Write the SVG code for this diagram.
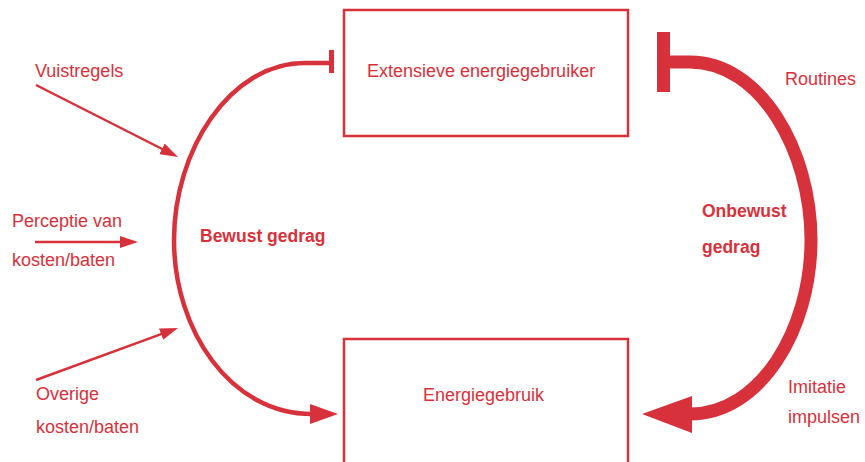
<svg xmlns="http://www.w3.org/2000/svg" width="865" height="462" viewBox="0 0 865 462">
  <defs>
    <style>
      .lbl { font-family: "Liberation Sans", Arial, sans-serif; font-size: 18px; fill: #d7313b; }
      .bold { font-family: "Liberation Sans", Arial, sans-serif; font-size: 17.5px; font-weight: bold; fill: #d7313b; }
      .box { fill: none; stroke: #d7313b; stroke-width: 2.5; }
      .thin { fill: none; stroke: #d7313b; stroke-width: 2.5; }
      .arc { fill: none; stroke: #d7313b; }
      .head { fill: #d7313b; }
    </style>
    <marker id="arr" markerUnits="userSpaceOnUse" markerWidth="18" markerHeight="12" refX="8" refY="6" orient="auto" viewBox="0 0 18 12">
      <path d="M0,0 L18,6 L0,12 z" fill="#d7313b"/>
    </marker>
  </defs>
  <rect width="865" height="462" fill="#ffffff"/>

  <g id="node-extensieve">
    <rect class="box" x="344" y="10" width="284" height="126"/>
    <text class="lbl" x="367" y="77">Extensieve energiegebruiker</text>
  </g>
  <g id="node-energiegebruik">
    <rect class="box" x="344" y="339" width="284" height="140"/>
    <text class="lbl" x="423" y="401">Energiegebruik</text>
  </g>
  <g id="node-vuistregels">
    <text class="lbl" x="35" y="77">Vuistregels</text>
  </g>
  <g id="node-perceptie">
    <text class="lbl" x="12" y="227">Perceptie van</text>
    <text class="lbl" x="12" y="266">kosten/baten</text>
  </g>
  <g id="node-overige">
    <text class="lbl" x="36" y="400">Overige</text>
    <text class="lbl" x="36" y="433">kosten/baten</text>
  </g>
  <g id="node-routines">
    <text class="lbl" x="785" y="85">Routines</text>
  </g>
  <g id="node-imitatie">
    <text class="lbl" x="788" y="393">Imitatie</text>
    <text class="lbl" x="788" y="423">impulsen</text>
  </g>
  <g id="node-bewust">
    <text class="bold" x="200" y="242">Bewust gedrag</text>
  </g>
  <g id="node-onbewust">
    <text class="bold" x="702" y="217">Onbewust</text>
    <text class="bold" x="702" y="253">gedrag</text>
  </g>

  <g id="connectors">
    <line class="thin" x1="36" y1="85" x2="169.1" y2="152.5" marker-end="url(#arr)"/>
    <line class="thin" x1="35" y1="242" x2="128" y2="242" marker-end="url(#arr)"/>
    <line class="thin" x1="36" y1="380" x2="168.6" y2="331.4" marker-end="url(#arr)"/>

    <path class="arc" stroke-width="4.5" d="M331,63 L305,63 C230,63 174,150 174,240 C174,330 230,414 312,414"/>
    <rect class="head" x="329" y="50" width="5" height="23"/>
    <polygon class="head" points="310,404 338,414 310,424"/>

    <path class="arc" stroke-width="13" d="M663,62 L690,62 C760,62 811,150 811,240 C811,330 760,414 690,414"/>
    <rect class="head" x="657" y="32" width="13" height="60"/>
    <polygon class="head" points="692,396 642,414 692,433"/>
  </g>
</svg>
